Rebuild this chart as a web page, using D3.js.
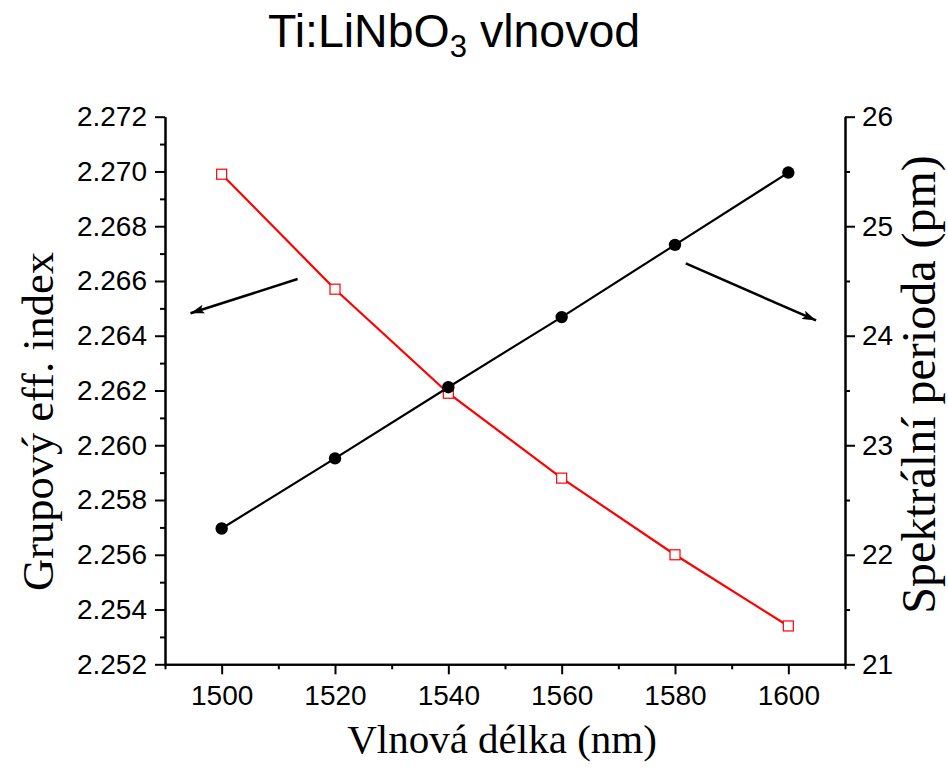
<!DOCTYPE html>
<html>
<head>
<meta charset="utf-8">
<script src="https://cdn.jsdelivr.net/npm/d3@7"></script>
<style>
  html, body { margin: 0; padding: 0; background: #fff; }
  svg { display: block; }
</style>
</head>
<body>
<svg id="chart" width="948" height="775"></svg>
<script>
// ---- data ----
const wavelengths = [1500, 1520, 1540, 1560, 1580, 1600];
const groupIndex = [2.2699, 2.2657, 2.2619, 2.2588, 2.2560, 2.2534];   // left axis, red squares
const spectralPeriod = [22.24, 22.88, 23.53, 24.17, 24.83, 25.49];     // right axis, black circles
const xTicks = [1500, 1520, 1540, 1560, 1580, 1600];
const xMinorTicks = [1490, 1510, 1530, 1550, 1570, 1590, 1610];
const yLeftTicks = [2.252, 2.254, 2.256, 2.258, 2.260, 2.262, 2.264, 2.266, 2.268, 2.270, 2.272];
const yLeftMinor = [2.253, 2.255, 2.257, 2.259, 2.261, 2.263, 2.265, 2.267, 2.269, 2.271];
const yRightTicks = [21, 22, 23, 24, 25, 26];
const yRightMinor = [21.5, 22.5, 23.5, 24.5, 25.5];
// annotation arrows, in data units: [x1, y1, x2, y2]
const leftArrow = [1513.4, 2.26607, 1494.5, 2.26482];
const rightArrow = [1581.9, 24.66, 1604.9, 24.14];

const svg = d3.select("#chart");
const L = 165, R = 845, T = 116.7, B = 664.3;

const x = d3.scaleLinear().domain([1490, 1610]).range([L, R]);
const yL = d3.scaleLinear().domain([2.252, 2.272]).range([B, T]);
const yR = d3.scaleLinear().domain([21, 26]).range([B, T]);

const sans = "'Liberation Sans', Arial, sans-serif";
const serif = "'Liberation Serif', 'Times New Roman', serif";

function styleAxis(g) {
  g.attr("font-size", null).attr("font-family", null);
  g.selectAll("path.domain").attr("stroke", "#000").attr("stroke-width", 2);
  g.selectAll(".tick line").attr("stroke", "#000").attr("stroke-width", 2);
  g.selectAll(".tick text").attr("fill", "#000").style("font-family", sans).style("font-size", "28px");
}

// Bottom axis
const gx = svg.append("g").attr("transform", `translate(0,${B})`)
  .call(d3.axisBottom(x).tickValues(xTicks).tickFormat(d3.format("d")).tickSize(10).tickPadding(11).tickSizeOuter(0));
styleAxis(gx);
const gxm = svg.append("g").attr("transform", `translate(0,${B})`)
  .call(d3.axisBottom(x).tickValues(xMinorTicks).tickFormat("").tickSize(5).tickSizeOuter(0));
styleAxis(gxm);

// Left axis
const gl = svg.append("g").attr("transform", `translate(${L},0)`)
  .call(d3.axisLeft(yL).tickValues(yLeftTicks).tickFormat(d3.format(".3f")).tickSize(10).tickPadding(8).tickSizeOuter(0));
styleAxis(gl);
const glm = svg.append("g").attr("transform", `translate(${L},0)`)
  .call(d3.axisLeft(yL).tickValues(yLeftMinor).tickFormat("").tickSize(5).tickSizeOuter(0));
styleAxis(glm);

// Right axis
const gr = svg.append("g").attr("transform", `translate(${R},0)`)
  .call(d3.axisRight(yR).tickValues(yRightTicks).tickFormat(d3.format("d")).tickSize(10).tickPadding(7).tickSizeOuter(0));
styleAxis(gr);
const grm = svg.append("g").attr("transform", `translate(${R},0)`)
  .call(d3.axisRight(yR).tickValues(yRightMinor).tickFormat("").tickSize(5).tickSizeOuter(0));
styleAxis(grm);

// Red series (left axis)
const redData = wavelengths.map((w, i) => [w, groupIndex[i]]);
svg.append("path").datum(redData)
  .attr("fill", "none").attr("stroke", "#ff0000").attr("stroke-width", 2.2)
  .attr("d", d3.line().x(d => x(d[0])).y(d => yL(d[1])));
svg.selectAll("rect.red").data(redData).enter().append("rect")
  .attr("class", "red")
  .attr("x", d => x(d[0]) - 5).attr("y", d => yL(d[1]) - 5)
  .attr("width", 10).attr("height", 10)
  .attr("fill", "#fff").attr("stroke", "#ff0000").attr("stroke-width", 1.2);

// Black series (right axis)
const blackData = wavelengths.map((w, i) => [w, spectralPeriod[i]]);
svg.append("path").datum(blackData)
  .attr("fill", "none").attr("stroke", "#000").attr("stroke-width", 2.2)
  .attr("d", d3.line().x(d => x(d[0])).y(d => yR(d[1])));
svg.selectAll("circle.blk").data(blackData).enter().append("circle")
  .attr("class", "blk")
  .attr("cx", d => x(d[0])).attr("cy", d => yR(d[1])).attr("r", 6.2)
  .attr("fill", "#000");

// Arrow marker
svg.append("defs").append("marker")
  .attr("id", "ah").attr("viewBox", "0 0 14 9").attr("refX", 14).attr("refY", 4.5)
  .attr("markerWidth", 14).attr("markerHeight", 9).attr("markerUnits", "userSpaceOnUse")
  .attr("orient", "auto")
  .append("path").attr("d", "M0,0 L14,4.5 L0,9 L3,4.5 Z").attr("fill", "#000");

svg.append("line")
  .attr("x1", x(leftArrow[0])).attr("y1", yL(leftArrow[1]))
  .attr("x2", x(leftArrow[2])).attr("y2", yL(leftArrow[3]))
  .attr("stroke", "#000").attr("stroke-width", 2.5).attr("marker-end", "url(#ah)");
svg.append("line")
  .attr("x1", x(rightArrow[0])).attr("y1", yR(rightArrow[1]))
  .attr("x2", x(rightArrow[2])).attr("y2", yR(rightArrow[3]))
  .attr("stroke", "#000").attr("stroke-width", 2.5).attr("marker-end", "url(#ah)");

// Title
const title = svg.append("text").attr("x", 268).attr("y", 47)
  .style("font-family", sans).style("font-size", "46.5px").attr("fill", "#000");
title.append("tspan").text("Ti:LiNbO");
title.append("tspan").attr("dy", 10).style("font-size", "31px").text("3");
title.append("tspan").attr("dy", -10).text(" vlnovod");

// Axis titles
svg.append("text")
  .attr("x", (L + R) / 2 - 3).attr("y", 753)
  .attr("text-anchor", "middle")
  .style("font-family", serif).style("font-size", "41px").attr("fill", "#000")
  .text("Vlnová délka (nm)");

svg.append("text")
  .attr("transform", `translate(53,${(T + B) / 2 + 31}) rotate(-90)`)
  .attr("text-anchor", "middle")
  .style("font-family", serif).style("font-size", "44.5px").attr("fill", "#000")
  .text("Grupový eff. index");

svg.append("text")
  .attr("transform", `translate(935,${(T + B) / 2 - 6}) rotate(-90)`)
  .attr("text-anchor", "middle")
  .style("font-family", serif).style("font-size", "48px").attr("fill", "#000")
  .text("Spektrální perioda (pm)");
</script>
</body>
</html>
